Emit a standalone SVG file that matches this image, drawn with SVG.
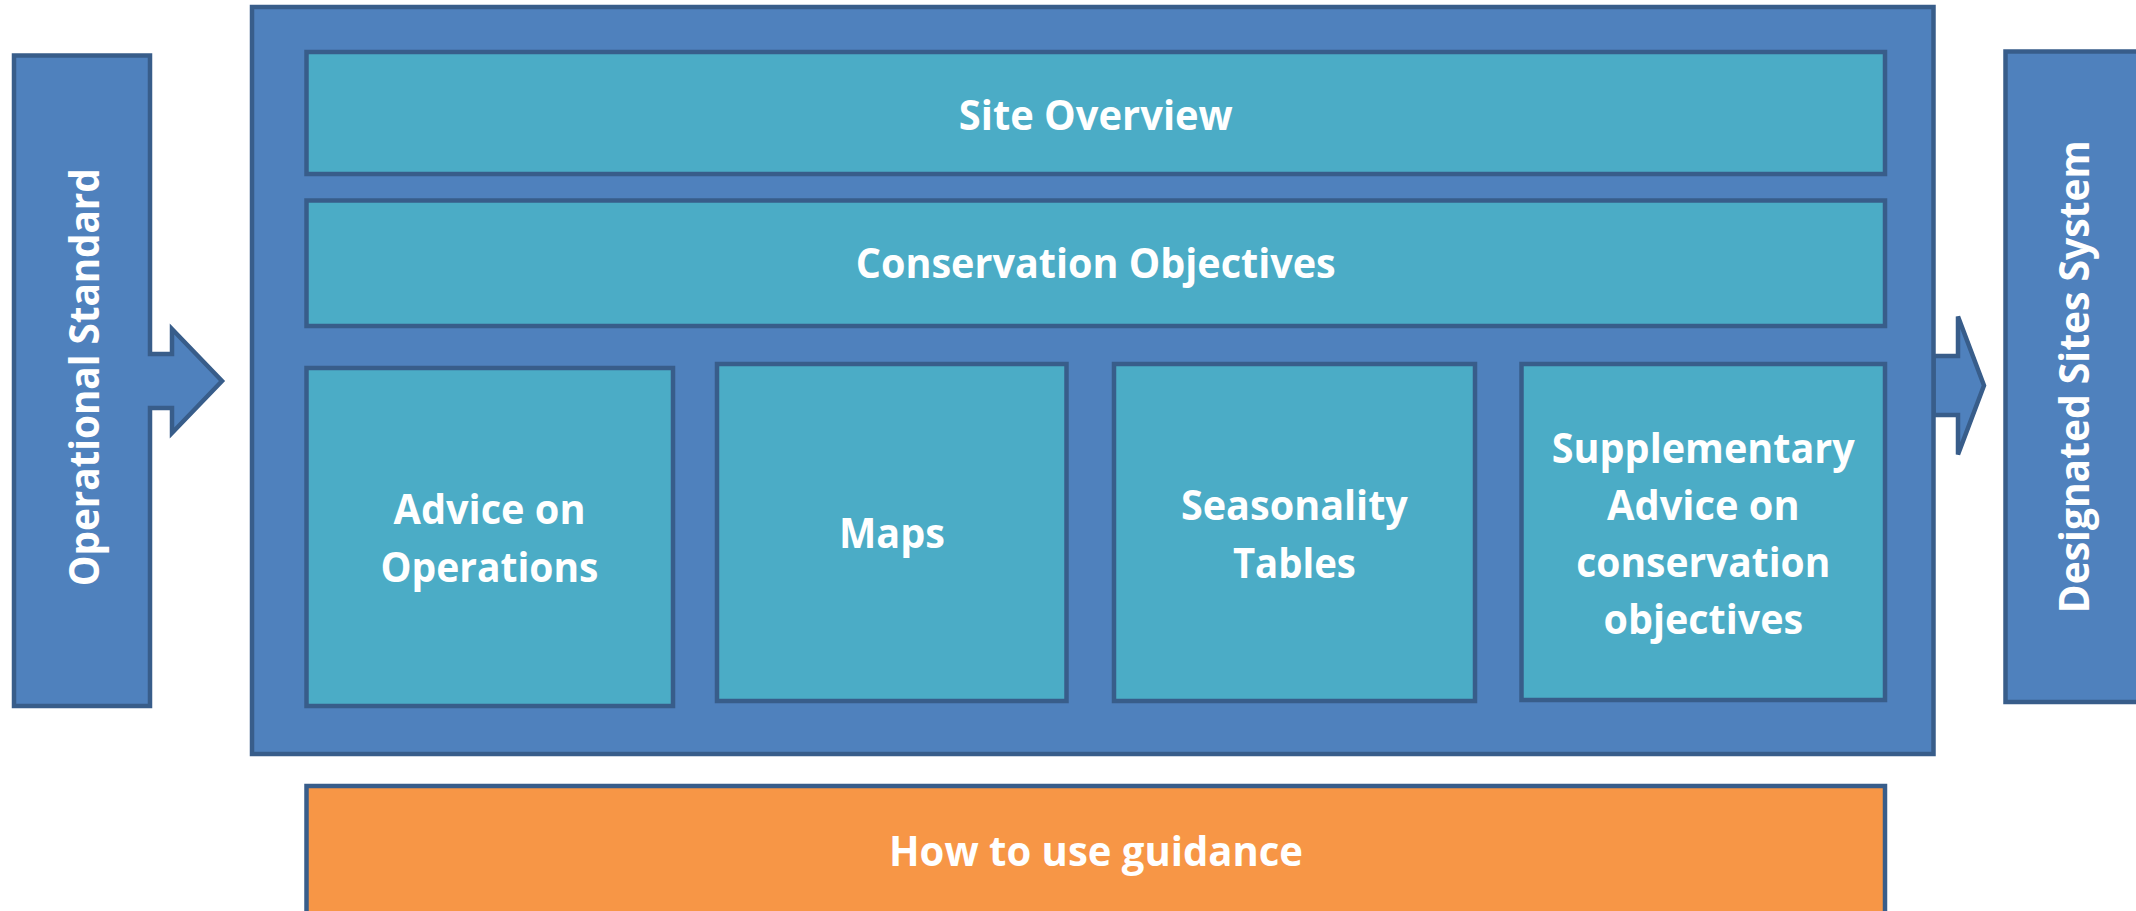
<svg xmlns="http://www.w3.org/2000/svg" width="2136" height="911" viewBox="0 0 2136 911">
  <style>
    .blue { fill: #4F81BD; stroke: #385D8A; stroke-width: 4.5; }
    .teal { fill: #4BACC6; stroke: #385D8A; stroke-width: 4.5; }
    .orange { fill: #F79646; stroke: #385D8A; stroke-width: 4.5; }
    .lbl { font-family: "Open Sans", "Liberation Sans", sans-serif; font-weight: bold; font-size: 42px; fill: #FFFFFF; text-anchor: middle; }
  </style>
  <rect width="2136" height="911" fill="#FFFFFF"/>

  <g id="designated-sites-system">
    <rect class="blue" x="2005.5" y="51.5" width="200" height="650.5"/>
    <text class="lbl" transform="translate(2089.3,376.7) rotate(-90)" x="0" y="0" textLength="473" lengthAdjust="spacingAndGlyphs">Designated Sites System</text>
  </g>

  <g id="connectors">
    <polygon class="blue" points="1933.5,356 1958,356 1958,316.5 1984,385.5 1958,454.5 1958,415 1933.5,415"/>
  </g>

  <g id="package">
    <rect class="blue" x="252" y="7" width="1681.5" height="747"/>
  </g>

  <g id="operational-standard">
    <path class="blue" d="M14,55.5 H150 V354 H172 V329 L222,381 L172,433 V408 H150 V706 H14 Z"/>
    <text class="lbl" transform="translate(99,377.2) rotate(-90)" x="0" y="0" textLength="418" lengthAdjust="spacingAndGlyphs">Operational Standard</text>
  </g>

  <g id="site-overview">
    <rect class="teal" x="306.5" y="52" width="1578.5" height="122"/>
    <text class="lbl" x="1095.75" y="130" textLength="274" lengthAdjust="spacingAndGlyphs">Site Overview</text>
  </g>

  <g id="conservation-objectives">
    <rect class="teal" x="306.5" y="200.5" width="1578.5" height="125.5"/>
    <text class="lbl" x="1095.75" y="278.3" textLength="480" lengthAdjust="spacingAndGlyphs">Conservation Objectives</text>
  </g>

  <g id="advice-on-operations">
    <rect class="teal" x="306.5" y="368" width="366.5" height="338"/>
    <text class="lbl" x="489.5" y="524" textLength="192" lengthAdjust="spacingAndGlyphs">Advice on</text>
    <text class="lbl" x="489.5" y="581.7" textLength="218" lengthAdjust="spacingAndGlyphs">Operations</text>
  </g>

  <g id="maps">
    <rect class="teal" x="717" y="364" width="349.5" height="337"/>
    <text class="lbl" x="892" y="548.3" textLength="106" lengthAdjust="spacingAndGlyphs">Maps</text>
  </g>

  <g id="seasonality-tables">
    <rect class="teal" x="1114" y="364" width="361" height="337"/>
    <text class="lbl" x="1294.4" y="520.3" textLength="227" lengthAdjust="spacingAndGlyphs">Seasonality</text>
    <text class="lbl" x="1294.4" y="578.3" textLength="123" lengthAdjust="spacingAndGlyphs">Tables</text>
  </g>

  <g id="supplementary-advice">
    <rect class="teal" x="1521.5" y="364" width="363.5" height="336"/>
    <text class="lbl" x="1703.3" y="462.7" textLength="303" lengthAdjust="spacingAndGlyphs">Supplementary</text>
    <text class="lbl" x="1703.3" y="519.5" textLength="192.5" lengthAdjust="spacingAndGlyphs">Advice on</text>
    <text class="lbl" x="1703.3" y="576.7" textLength="254" lengthAdjust="spacingAndGlyphs">conservation</text>
    <text class="lbl" x="1703.3" y="634" textLength="199.5" lengthAdjust="spacingAndGlyphs">objectives</text>
  </g>

  <g id="how-to-use-guidance">
    <rect class="orange" x="306.5" y="786" width="1578.5" height="135"/>
    <text class="lbl" x="1096" y="866" textLength="414" lengthAdjust="spacingAndGlyphs">How to use guidance</text>
  </g>
</svg>
